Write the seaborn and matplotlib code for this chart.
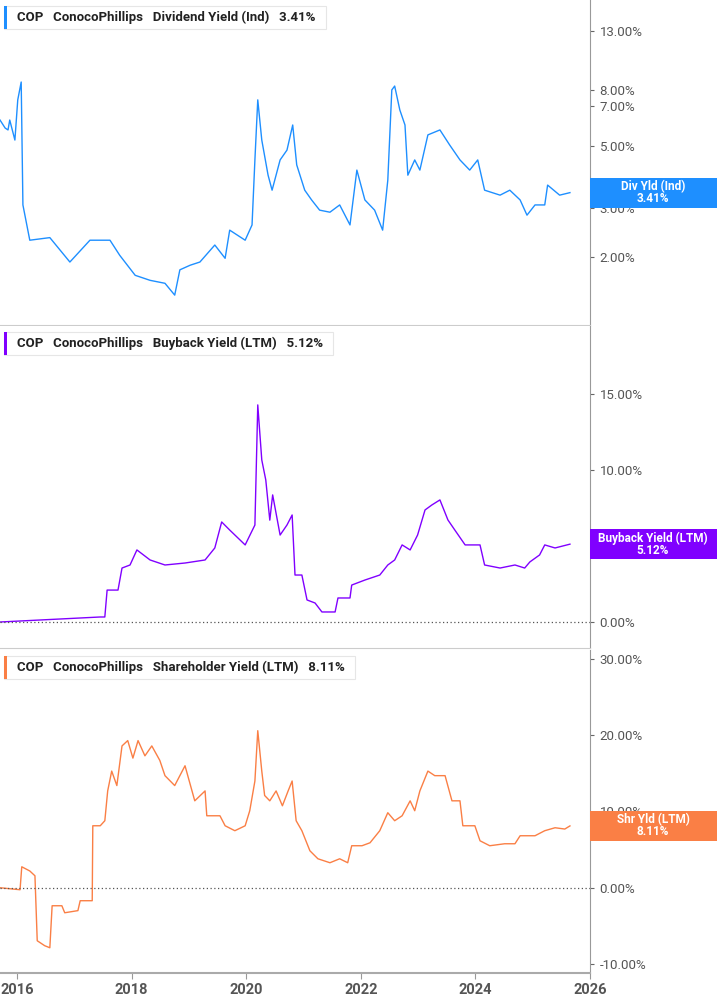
import numpy as np
import pandas as pd
import seaborn as sns
import matplotlib.pyplot as plt
from matplotlib.patches import Rectangle
from matplotlib.ticker import FixedLocator, NullLocator

# Data (decimal years, yield in %)
DIV_YEARS = [2015.70, 2015.79, 2015.84, 2015.87, 2015.96, 2016.01, 2016.07, 2016.10, 2016.22,
             2016.57, 2016.92, 2017.27, 2017.62, 2017.79, 2018.06, 2018.32, 2018.58, 2018.75,
             2018.84, 2019.02, 2019.19, 2019.45, 2019.63, 2019.71, 2019.98, 2020.10, 2020.15,
             2020.20, 2020.27, 2020.38, 2020.45, 2020.59, 2020.71, 2020.81, 2020.88, 2021.02,
             2021.14, 2021.28, 2021.46, 2021.63, 2021.81, 2021.93, 2022.07, 2022.24, 2022.38,
             2022.47, 2022.54, 2022.59, 2022.68, 2022.77, 2022.82, 2022.94, 2023.03, 2023.17,
             2023.38, 2023.55, 2023.73, 2023.90, 2024.04, 2024.16, 2024.43, 2024.60, 2024.78,
             2024.90, 2025.04, 2025.21, 2025.26, 2025.47, 2025.65]
DIV_YIELD = [6.22, 5.82, 5.73, 6.22, 5.27, 7.35, 8.52, 3.08, 2.30,
             2.35, 1.92, 2.30, 2.30, 2.03, 1.72, 1.65, 1.61, 1.46,
             1.80, 1.87, 1.92, 2.21, 1.98, 2.50, 2.30, 2.61, 4.47,
             7.35, 5.27, 3.94, 3.48, 4.47, 4.85, 5.97, 4.29, 3.48,
             3.21, 2.95, 2.90, 3.08, 2.61, 4.11, 3.21, 2.95, 2.50,
             3.78, 7.98, 8.24, 6.76, 5.97, 3.94, 4.47, 4.11, 5.50,
             5.73, 5.06, 4.47, 4.11, 4.47, 3.48, 3.34, 3.48, 3.21,
             2.83, 3.08, 3.08, 3.63, 3.34, 3.41]

BUY_YEARS = [2015.70, 2017.45, 2017.53, 2017.57, 2017.76, 2017.83, 2017.97, 2018.09, 2018.32,
             2018.58, 2018.93, 2019.28, 2019.45, 2019.57, 2019.71, 2019.98, 2020.15, 2020.20,
             2020.27, 2020.34, 2020.41, 2020.46, 2020.59, 2020.71, 2020.80, 2020.85, 2020.97,
             2021.06, 2021.20, 2021.32, 2021.55, 2021.60, 2021.81, 2021.84, 2022.07, 2022.33,
             2022.47, 2022.59, 2022.72, 2022.86, 2022.99, 2023.12, 2023.24, 2023.38, 2023.52,
             2023.64, 2023.82, 2024.08, 2024.16, 2024.43, 2024.69, 2024.86, 2024.95, 2025.12,
             2025.21, 2025.39, 2025.65]
BUY_YIELD = [0.00, 0.33, 0.33, 2.10, 2.10, 3.55, 3.75, 4.74, 4.08,
             3.75, 3.88, 4.08, 4.87, 6.58, 6.05, 5.07, 6.38, 14.28,
             10.66, 9.34, 6.70, 8.36, 5.72, 6.38, 7.04, 3.09, 3.09,
             1.45, 1.25, 0.66, 0.66, 1.58, 1.58, 2.43, 2.76, 3.09,
             3.75, 4.08, 5.07, 4.74, 5.72, 7.37, 7.70, 8.03, 6.71,
             6.05, 5.07, 5.07, 3.75, 3.55, 3.75, 3.55, 3.95, 4.41,
             5.07, 4.87, 5.12]

SHR_YEARS = [2015.70, 2016.05, 2016.08, 2016.22, 2016.31, 2016.35, 2016.48, 2016.57, 2016.61,
             2016.78, 2016.83, 2017.06, 2017.10, 2017.31, 2017.32, 2017.45, 2017.53, 2017.58,
             2017.65, 2017.74, 2017.83, 2017.93, 2018.02, 2018.11, 2018.23, 2018.35, 2018.49,
             2018.58, 2018.75, 2018.93, 2019.10, 2019.28, 2019.31, 2019.54, 2019.63, 2019.80,
             2019.98, 2020.06, 2020.15, 2020.20, 2020.27, 2020.32, 2020.41, 2020.52, 2020.63,
             2020.73, 2020.80, 2020.87, 2020.97, 2021.11, 2021.25, 2021.46, 2021.63, 2021.77,
             2021.84, 2022.02, 2022.16, 2022.33, 2022.47, 2022.59, 2022.72, 2022.86, 2022.94,
             2023.03, 2023.17, 2023.29, 2023.47, 2023.59, 2023.73, 2023.78, 2023.99, 2024.08,
             2024.25, 2024.51, 2024.69, 2024.78, 2025.04, 2025.21, 2025.39, 2025.56, 2025.65]
SHR_YIELD = [0.00, -0.26, 2.75, 2.20, 1.57, -6.95, -7.60, -7.87, -2.36,
             -2.36, -3.28, -3.00, -1.70, -1.70, 8.13, 8.13, 8.79, 12.70,
             15.30, 13.40, 18.60, 19.30, 17.00, 19.30, 17.30, 18.60, 16.70,
             14.70, 13.40, 16.00, 11.40, 12.70, 9.44, 9.44, 8.13, 7.48,
             8.13, 10.10, 14.00, 20.60, 15.30, 12.10, 11.40, 12.70, 10.75,
             12.70, 14.00, 8.79, 7.48, 4.85, 3.80, 3.28, 3.80, 3.28,
             5.51, 5.51, 5.90, 7.48, 9.84, 8.79, 9.44, 11.40, 10.10,
             12.70, 15.30, 14.70, 14.70, 11.40, 11.40, 8.13, 8.13, 6.16,
             5.51, 5.77, 5.77, 6.82, 6.82, 7.48, 7.87, 7.70, 8.11]

PANELS = [
    dict(x=DIV_YEARS, y=DIV_YIELD, color="#1E8FFF", label="Dividend Yield (Ind)", badge="Div Yld (Ind)",
         last="3.41%", ylim=(1.14, 16.8), ticks=[2, 3, 5, 7, 8, 13], log=True, zero=False),
    dict(x=BUY_YEARS, y=BUY_YIELD, color="#8000FF", label="Buyback Yield (LTM)", badge="Buyback Yield (LTM)",
         last="5.12%", ylim=(-1.71, 19.47), ticks=[0, 5, 10, 15], log=False, zero=True),
    dict(x=SHR_YEARS, y=SHR_YIELD, color="#FA7F45", label="Shareholder Yield (LTM)", badge="Shr Yld (LTM)",
         last="8.11%", ylim=(-11.18, 31.18), ticks=[-10, 0, 10, 20, 30], log=False, zero=True),
]
YEAR_TICKS = [2016, 2018, 2020, 2022, 2024, 2026]

plt.rcParams["font.family"] = "Roboto"
W, H = 717, 1005
fig = plt.figure(figsize=(W / 100, H / 100), dpi=100)
boxes = [(0, 325), (326, 648), (650, 973)]
GRAY = "#666666"

for (top, bot), p in zip(boxes, PANELS):
    ax = fig.add_axes([0, 1 - bot / H, 590 / W, (bot - top) / H])
    df = pd.DataFrame({"year": p["x"], "val": p["y"]})
    sns.lineplot(data=df, x="year", y="val", ax=ax, color=p["color"], linewidth=1.0)
    if p["log"]:
        ax.set_yscale("log")
    ax.set_xlim(2015.70, 2026.0)
    ax.set_ylim(*p["ylim"])
    ax.yaxis.set_major_locator(FixedLocator(p["ticks"]))
    ax.yaxis.set_minor_locator(NullLocator())
    ax.set_yticklabels([f"{t:.2f}%" for t in p["ticks"]])
    ax.yaxis.tick_right()
    ax.tick_params(axis="y", length=3, color=GRAY, labelcolor="#555555", labelsize=9.5, pad=4)
    ax.set_xlabel("")
    ax.set_ylabel("")
    for s in ["left", "top"]:
        ax.spines[s].set_visible(False)
    ax.spines["right"].set_color("#999999")
    ax.spines["bottom"].set_color("#cccccc")
    if p["zero"]:
        ax.axhline(0, color="#555555", linestyle=(0, (1, 2)), linewidth=0.9)
    if top == 650:
        ax.set_xticks(YEAR_TICKS)
        ax.set_xticklabels([str(y) for y in YEAR_TICKS])
        ax.tick_params(axis="x", length=4, color="#999999", labelcolor="#555555", labelsize=10.5)
        for lab in ax.get_xticklabels():
            lab.set_fontweight("bold")
        ax.spines["bottom"].set_color("#aaaaaa")
        ax.spines["bottom"].set_linewidth(1.5)
    else:
        ax.set_xticks([])

    # legend box
    lx0, ly0 = 4, top + 6
    txt = f"COP   ConocoPhillips   {p['label']}   {p['last']}"
    t = fig.text(17 / W, 1 - (top + 17) / H, txt, fontsize=9.5, fontweight="bold",
                 color="#222222", va="center", ha="left")
    fig.canvas.draw()
    bb = t.get_window_extent()
    fig.patches.append(Rectangle((lx0 / W, 1 - (top + 29) / H), (bb.x1 + 10 - lx0) / W, 23 / H,
                                 transform=fig.transFigure, facecolor="white", edgecolor="#e6e6e6",
                                 linewidth=0.8, zorder=1))
    fig.patches.append(Rectangle((lx0 / W, 1 - (top + 29) / H), 3 / W, 23 / H,
                                 transform=fig.transFigure, facecolor=p["color"], zorder=2))

    # value badge
    yc = ax.transData.transform((2026, p["y"][-1]))[1]
    fig.patches.append(Rectangle((590 / W, (yc - 15) / H), 127 / W, 30 / H,
                                 transform=fig.transFigure, facecolor=p["color"], zorder=3))
    fig.text(653 / W, (yc + 6) / H, p["badge"], color="white", fontsize=8.5, fontweight="bold",
             ha="center", va="center", zorder=4)
    fig.text(653 / W, (yc - 6) / H, p["last"], color="white", fontsize=8.5, fontweight="bold",
             ha="center", va="center", zorder=4)

fig.savefig("out.png", dpi=100)
